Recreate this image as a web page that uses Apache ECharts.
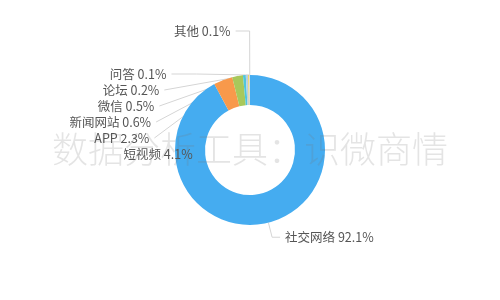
<!DOCTYPE html>
<html><head><meta charset="utf-8">
<script src="https://cdn.jsdelivr.net/npm/echarts@6/dist/echarts.min.js"></script>
<style>html,body{margin:0;padding:0;background:#fff}#c{width:500px;height:300px}</style>
</head><body><div id="c"></div>
<script>
var categories = ['社交网络','短视频','APP','新闻网站','微信','论坛','问答','其他'];
var values = [92.1, 4.1, 2.3, 0.6, 0.5, 0.2, 0.1, 0.1];
var colors = ['#45acf0','#f8994b','#a8c85b','#4fc6dc','#b8cfe0','#f4d04a','#9aa5b0','#e6e6e6'];
var watermark = '数据分析工具：识微商情';
var chart = echarts.init(document.getElementById('c'));
var data = categories.map(function(n,i){
  var d = { name: n, value: values[i] };
  if (i === 0) d.labelLine = { length: 15, length2: 8 };
  if (i === categories.length - 1) d.labelLine = { length: 44, length2: 14 };
  return d;
});
chart.setOption({
  animation: false,
  color: colors,
  graphic: [{
    type: 'text', left: 'center', top: 131, z: 100, silent: true,
    style: { text: watermark, fontSize: 36, fontWeight: 300, fill: 'rgba(120,120,120,0.2)', fontFamily: 'Noto Sans CJK SC' }
  }],
  series: [{
    type: 'pie',
    radius: ['30%', '50%'],
    center: ['50%', '50%'],
    z: 2,
    label: {
      formatter: function(p){ return p.name + ' ' + p.value + '%'; },
      color: '#555', fontSize: 12.5, lineHeight: 14, fontFamily: 'Noto Sans CJK SC'
    },
    labelLine: { length: 1, length2: 25, lineStyle: { color: '#d5d5d5', width: 1 } },
    data: data
  }]
});
</script></body></html>
